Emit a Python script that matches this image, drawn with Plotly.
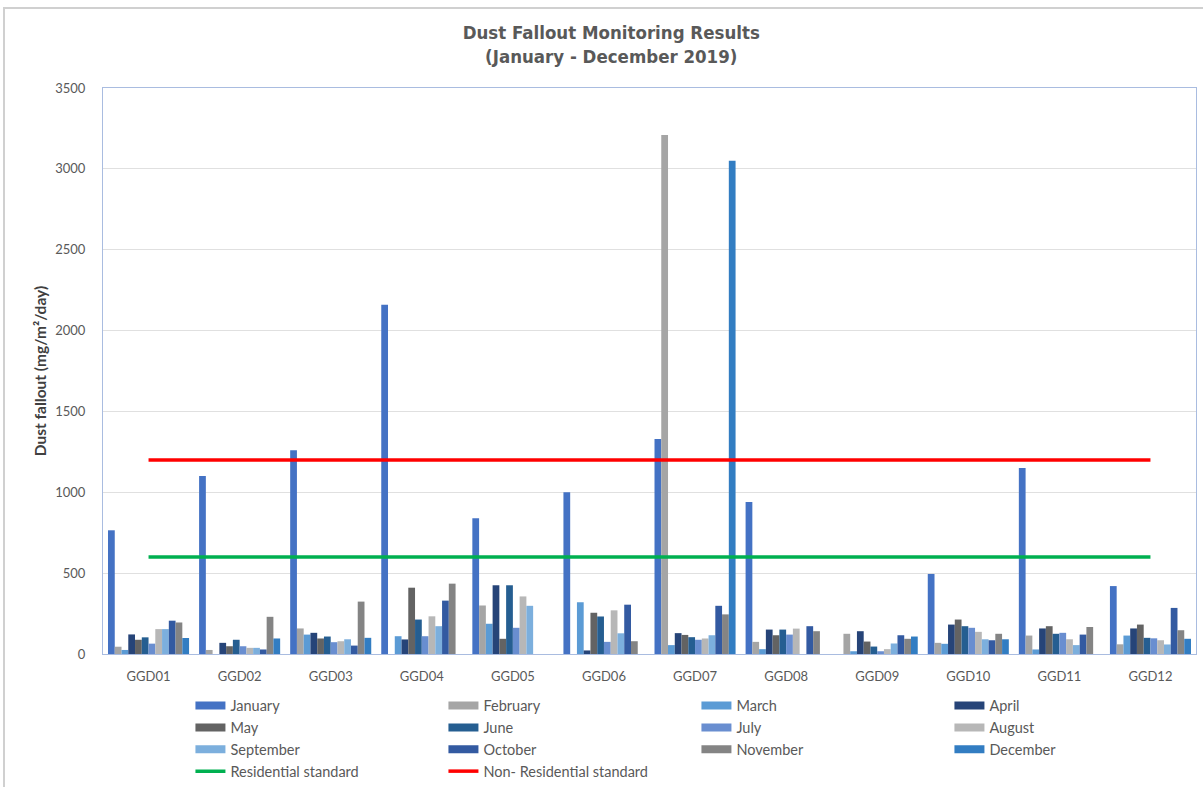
import plotly.graph_objects as go

# Monitoring sites
sites = ["GGD01", "GGD02", "GGD03", "GGD04", "GGD05", "GGD06",
         "GGD07", "GGD08", "GGD09", "GGD10", "GGD11", "GGD12"]

months = ["January", "February", "March", "April", "May", "June",
          "July", "August", "September", "October", "November", "December"]

# Monthly dust fallout per site (mg/m²/day); None = no sample
jan = [765, 1100, 1260, 2160, 840, 1000, 1330, 940, None, 495, 1150, 420]
feb = [45, 25, 158, None, 300, None, 3210, 75, 125, 69, 114, 60]
mar = [25, None, 120, 110, 187, 320, 55, 30, 17, 63, 28, 114]
apr = [121, 69, 131, 90, 425, 22, 129, 151, 141, 182, 158, 158]
may = [88, 48, 96, 410, 94, 255, 118, 116, 77, 213, 172, 182]
jun = [103, 88, 108, 213, 425, 232, 104, 151, 46, 172, 125, 100]
jul = [64, 48, 73, 110, 162, 75, 88, 120, 17, 162, 131, 97]
aug = [154, 38, 79, 233, 356, 270, 96, 157, 30, 137, 91, 85]
sep = [154, 38, 91, 172, 298, 128, 116, None, 65, 91, 55, 59]
oct_ = [206, 28, 52, 330, None, 305, 298, 172, 116, 85, 120, 285]
nov = [195, 230, 324, 435, None, 79, 245, 141, 94, 125, 167, 147]
dec = [99, 96, 100, None, None, None, 3050, None, 108, 91, None, 94]

monthly = [jan, feb, mar, apr, may, jun, jul, aug, sep, oct_, nov, dec]

colors = ["#4472C4", "#A5A5A5", "#5B9BD5", "#264478", "#636363", "#255E91",
          "#698ED0", "#B7B7B7", "#7CAFDD", "#335AA1", "#848484", "#327DC2"]

# Standards (mg/m²/day)
residential_std = 600
non_residential_std = 1200

fig = go.Figure()

for name, vals, col in zip(months, monthly, colors):
    fig.add_trace(go.Bar(x=sites, y=vals, name=name, marker_color=col,
                         marker_line_width=0, showlegend=False))

# wide rectangular swatches for the month legend entries
for name, col in zip(months, colors):
    fig.add_trace(go.Scatter(x=[None], y=[None], mode="lines", name=name,
                             line=dict(color=col, width=8),
                             showlegend=True, hoverinfo="skip"))

fig.add_trace(go.Scatter(x=sites, y=[residential_std] * len(sites), mode="lines",
                         name="Residential standard",
                         line=dict(color="#00B050", width=3.5)))
fig.add_trace(go.Scatter(x=sites, y=[non_residential_std] * len(sites), mode="lines",
                         name="Non- Residential standard",
                         line=dict(color="#FF0000", width=3.5)))

axis_font = dict(family="Lato, Open Sans, sans-serif", size=13, color="#595959")

fig.update_layout(
    width=1203, height=787,
    margin=dict(l=103, r=7, t=88, b=133, autoexpand=False),
    paper_bgcolor="white", plot_bgcolor="white",
    barmode="group", bargap=0.11, bargroupgap=0,
    title=dict(
        text="Dust Fallout Monitoring Results<br>(January - December 2019)",
        x=0.465, xref="paper", xanchor="center",
        y=0.95, yref="container", yanchor="top",
        font=dict(family="Liberation Sans Narrow, DejaVu Sans Condensed, Arial Narrow, sans-serif",
                  size=18.5, color="#595959", weight="bold"),
    ),
    xaxis=dict(
        tickfont=axis_font, showgrid=False, ticks="",
        showline=True, mirror=True, linecolor="#A9BCE0", linewidth=1,
        ticklabelstandoff=10,
    ),
    yaxis=dict(
        range=[0, 3500], dtick=500, tickfont=axis_font,
        showgrid=True, gridcolor="#E0E0E0", gridwidth=1,
        showline=True, mirror=True, linecolor="#A9BCE0", linewidth=1,
        ticks="", ticklabelstandoff=14, zeroline=False,
        title=dict(text="Dust fallout (mg/m²/day)", standoff=4,
                   font=dict(family="Lato, Open Sans, sans-serif", size=15.5,
                             color="#404040", weight="bold")),
    ),
    legend=dict(
        orientation="h", x=0.08, xanchor="left", y=-0.063, yanchor="top",
        entrywidth=208, traceorder="normal",
        font=dict(family="Lato, Open Sans, sans-serif", size=14.5, color="#595959"),
        itemwidth=30, tracegroupgap=0, bgcolor="rgba(0,0,0,0)",
    ),
    shapes=[
        # outer chart frame
        dict(type="rect", xref="paper", yref="paper",
             x0=(4 - 103) / 1093, x1=1.2, y0=-0.5, y1=(654 - 8) / 566,
             line=dict(color="#D0D0D0", width=2), fillcolor="rgba(0,0,0,0)",
             layer="below"),
    ],
)

fig.write_html("out.html")
